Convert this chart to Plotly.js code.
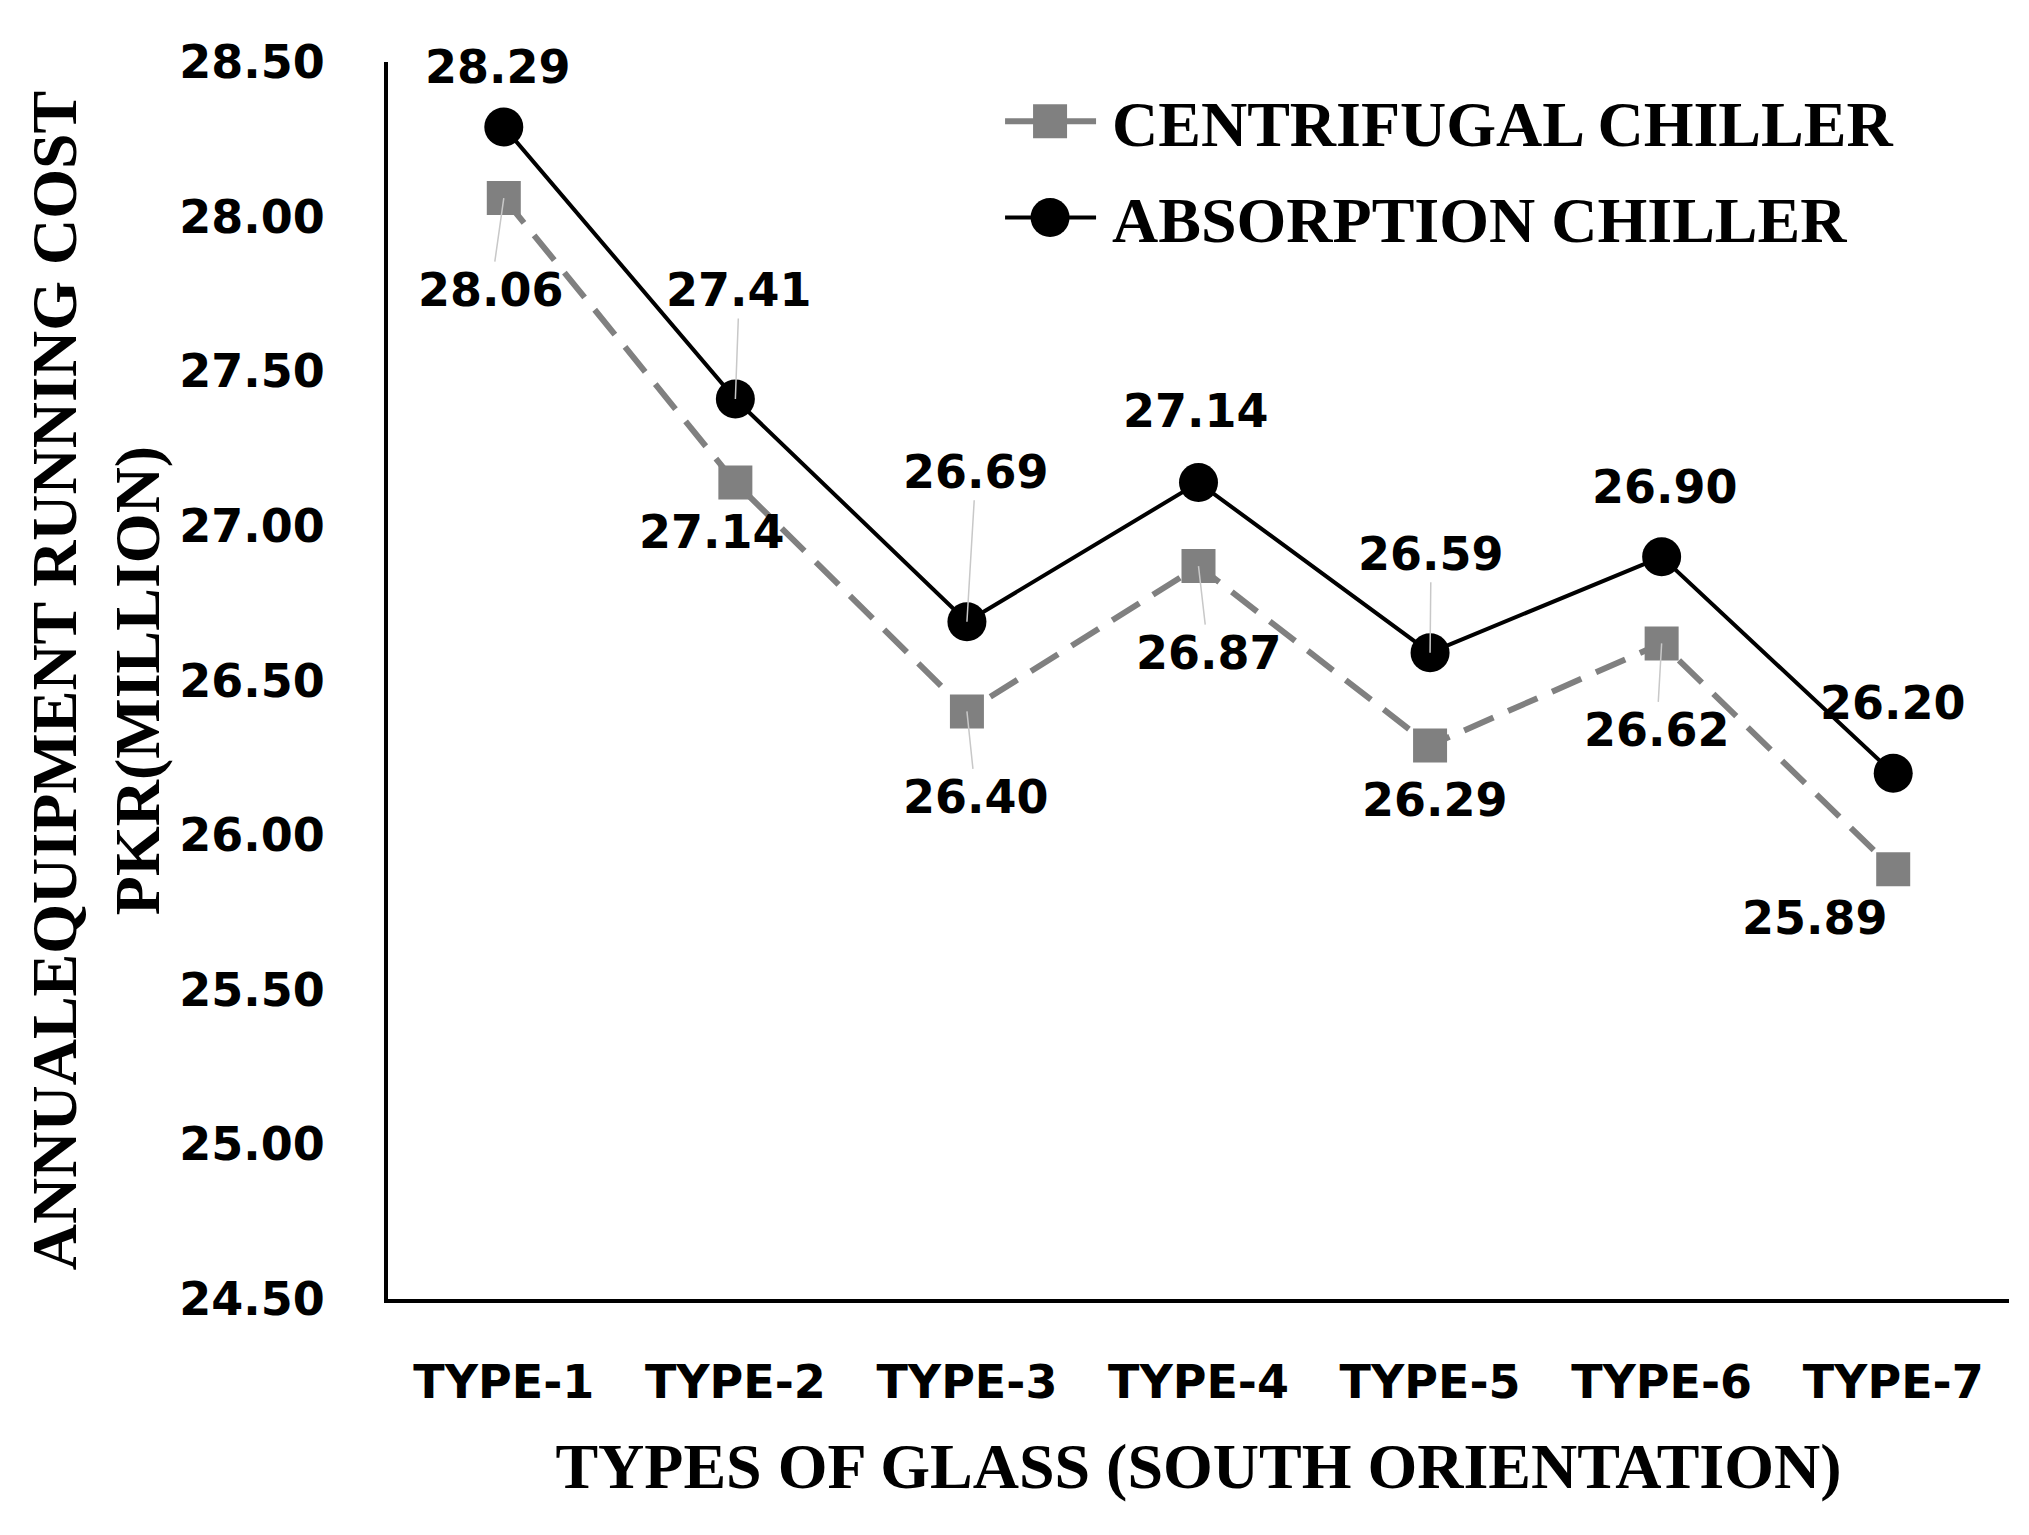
<!DOCTYPE html>
<html>
<head>
<meta charset="utf-8">
<script src="https://cdn.plot.ly/plotly-3.0.1.min.js"></script>
<style>html,body{margin:0;padding:0;background:#fff;}#chart{width:2029px;height:1535px;}</style>
</head>
<body>
<div id="chart"></div>
<script>
// ---- data ----
const categories = ["TYPE-1","TYPE-2","TYPE-3","TYPE-4","TYPE-5","TYPE-6","TYPE-7"];
const centrifugal = [28.06, 27.14, 26.40, 26.87, 26.29, 26.62, 25.89];
const absorption  = [28.29, 27.41, 26.69, 27.14, 26.59, 26.90, 26.20];
const seriesNames = ["CENTRIFUGAL CHILLER", "ABSORPTION CHILLER"];
const yTickVals = [24.5, 25.0, 25.5, 26.0, 26.5, 27.0, 27.5, 28.0, 28.5];

// ---- label placement (pixel offsets from points; styling only) ----
const absOffsets = [[-6,-60],[4,-109],[9,-150],[-3,-72],[1,-99],[3,-70],[0,-70]];
const absLeader  = [false,true,true,false,true,false,false];
const cenOffsets = [[-13,92],[-23,49],[9,86],[10,87],[5,55],[-5,87],[-78,49]];
const cenLeader  = [true,false,true,true,false,true,false];

const serif = "Liberation Serif, Times New Roman, serif";
const sans = "DejaVu Sans, Verdana, sans-serif";

const traces = [
  {
    x: categories, y: centrifugal, name: seriesNames[0], type: "scatter", mode: "lines+markers",
    line: {color: "#808080", width: 6, dash: "32px,16px"},
    marker: {symbol: "square", size: 34, color: "#808080"},
    legendgroup: "a"
  },
  {
    x: categories, y: absorption, name: seriesNames[1], type: "scatter", mode: "lines+markers",
    line: {color: "#000000", width: 4},
    marker: {symbol: "circle", size: 39, color: "#000000"},
    legendgroup: "b"
  }
];

function makeAnn(vals, offs, leaders) {
  return vals.map((v, i) => {
    const a = {
      x: categories[i], y: v, xref: "x", yref: "y",
      text: v.toFixed(2),
      font: {family: sans, size: 46, color: "#000", weight: "bold"},
    };
    if (leaders[i]) {
      Object.assign(a, {showarrow: true, ax: offs[i][0], ay: offs[i][1], axref: "pixel", ayref: "pixel",
        arrowhead: 0, arrowwidth: 1.5, arrowcolor: "#c8c8c8", standoff: 0});
    } else {
      Object.assign(a, {showarrow: false, xshift: offs[i][0], yshift: -offs[i][1]});
    }
    return a;
  });
}

const annotations = makeAnn(centrifugal, cenOffsets, cenLeader).concat(makeAnn(absorption, absOffsets, absLeader));

const layout = {
  width: 2029, height: 1535,
  paper_bgcolor: "#fff", plot_bgcolor: "#fff",
  margin: {l: 388, r: 20, t: 62, b: 236},
  showlegend: true,
  legend: {
    x: 0.422, y: 0.991, xanchor: "left", yanchor: "top",
    font: {family: serif, size: 64, color: "#000", weight: "bold"},
    traceorder: "grouped", tracegroupgap: 10, bgcolor: "rgba(0,0,0,0)", itemwidth: 30
  },
  xaxis: {
    type: "category", range: [-0.5, 6.5],
    showline: true, linecolor: "#000", linewidth: 4,
    showgrid: false, zeroline: false, ticks: "",
    tickfont: {family: sans, size: 46, color: "#000", weight: "bold"},
    ticklabelstandoff: 40,
    title: {text: "TYPES OF GLASS (SOUTH ORIENTATION)", font: {family: serif, size: 64, color: "#000", weight: "bold"}, standoff: 36}
  },
  yaxis: {
    range: [24.5, 28.5], tickvals: yTickVals, tickformat: ".2f",
    showline: true, linecolor: "#000", linewidth: 4,
    showgrid: false, zeroline: false, ticks: "",
    tickfont: {family: sans, size: 46, color: "#000", weight: "bold"},
    ticklabelstandoff: 50,
    title: {text: "ANNUALEQUIPMENT RUNNING COST<br>PKR(MILLION)", font: {family: serif, size: 64, color: "#000", weight: "bold"}, standoff: 0}
  },
  annotations: annotations
};

Plotly.newPlot("chart", traces, layout, {displayModeBar: false, staticPlot: true}).then(function (gd) {
  // enlarge legend symbols to match the reference's long line + big marker
  gd.querySelectorAll(".legend [clip-path]").forEach(function (e) { e.removeAttribute("clip-path"); });
  const items = gd.querySelectorAll(".legend .traces");
  const shapes = ["M17,17H-17V-17H17Z", "M19.5,0A19.5,19.5 0 1,1 0,-19.5A19.5,19.5 0 0,1 19.5,0Z"];
  items.forEach(function (it, k) {
    it.querySelectorAll(".legendlines path").forEach(function (p) {
      p.setAttribute("d", "M-67,0h91");
      p.style.strokeDasharray = "none";
    });
    it.querySelectorAll(".legendsymbols path.scatterpts").forEach(function (p) {
      p.setAttribute("d", shapes[k] || shapes[0]);
      p.setAttribute("transform", "translate(-22,0)");
    });
  });
});
</script>
</body>
</html>
